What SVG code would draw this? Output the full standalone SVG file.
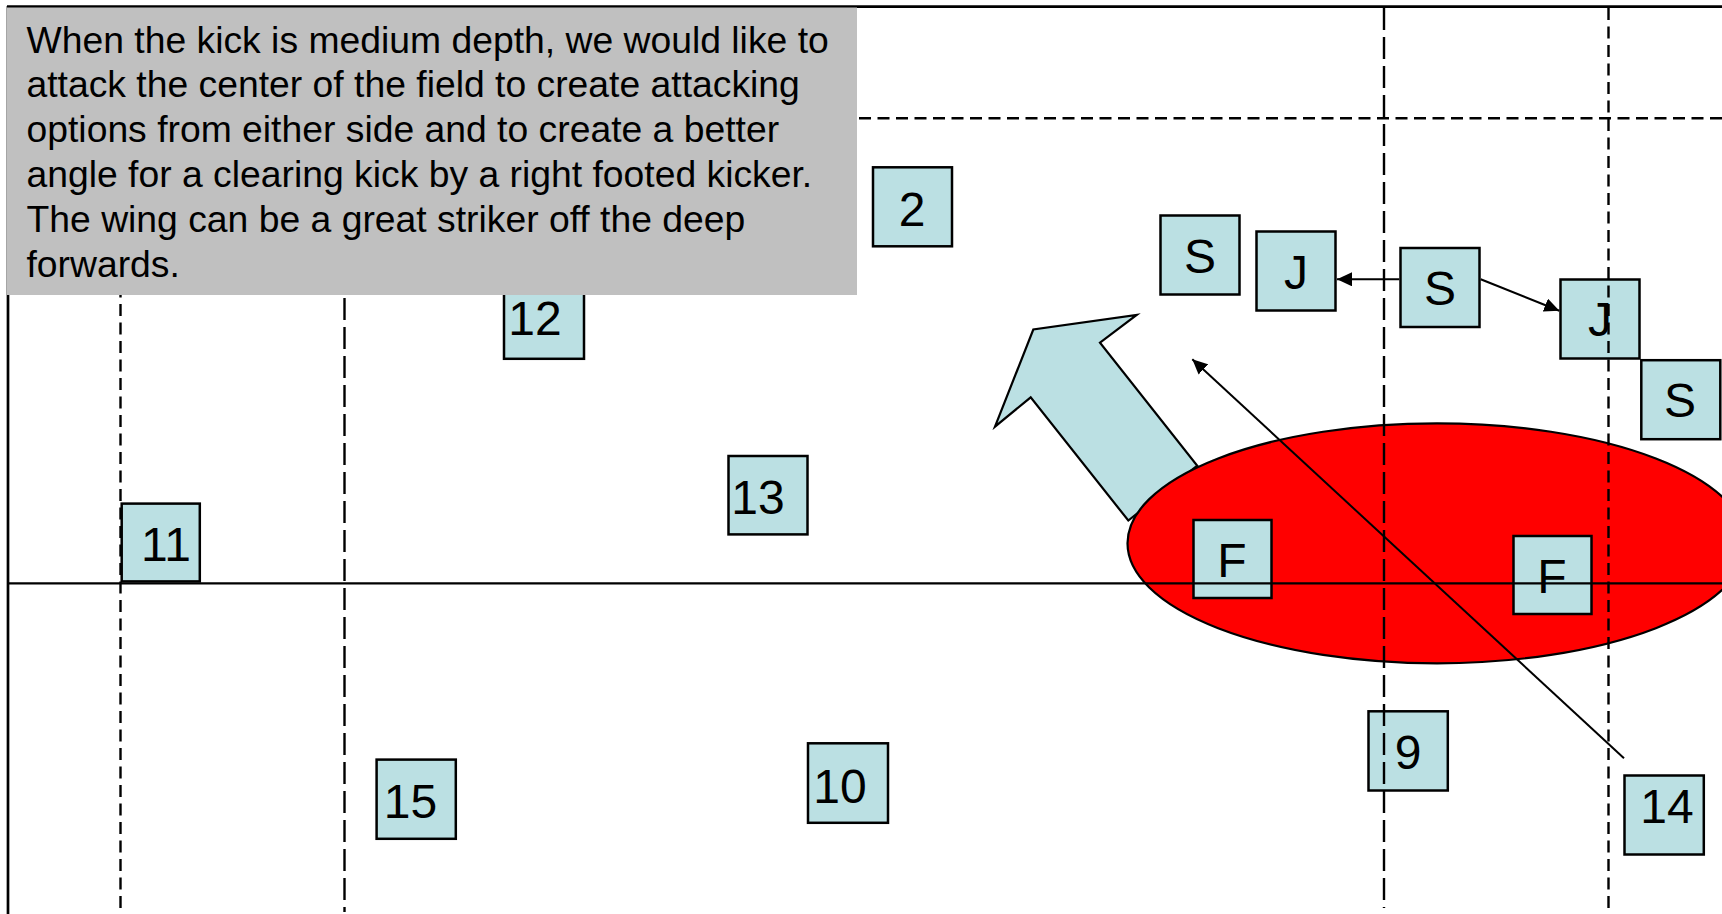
<svg xmlns="http://www.w3.org/2000/svg" width="1722" height="914" viewBox="0 0 1722 914">
<style>
.box{fill:#BBE0E3;stroke:#000;stroke-width:2.5}
.lbl{font-family:"Liberation Sans",Arial,sans-serif;font-size:48px;fill:#000;text-anchor:middle}
.note{font-family:"Liberation Sans",Arial,sans-serif;font-size:37.3px;fill:#000}
.frame{stroke:#000;stroke-width:2.7;fill:none}
.solid{stroke:#000;stroke-width:2.2;fill:none}
.sdash{stroke:#000;stroke-width:2.4;fill:none;stroke-dasharray:12 6.5}
.ldash{stroke:#000;stroke-width:2.4;fill:none;stroke-dasharray:22 7}
.conn{stroke:#000;stroke-width:2;fill:none;marker-end:url(#ah)}
</style>
<defs>
<marker id="ah" markerUnits="userSpaceOnUse" markerWidth="16" markerHeight="14" refX="15" refY="7" orient="auto" viewBox="0 0 16 14">
<path d="M0,0 L15,7 L0,14 z" fill="#000"/>
</marker>
</defs>
<rect x="0" y="0" width="1722" height="914" fill="#fff"/>
<g id="field-frame">
<line class="frame" x1="7" y1="6.7" x2="1722" y2="6.7"/>
<line class="frame" x1="8" y1="6" x2="8" y2="914"/>
</g>
<g id="big-arrow">
<polygon points="995,426.7 1033.3,329.5 1136.7,315 1100,342.7 1197.3,465.7 1128.3,520.5 1030.7,397.3" fill="#BBE0E3" stroke="#000" stroke-width="2.2" stroke-linejoin="miter"/>
</g>
<g id="ruck-zone">
<ellipse cx="1437" cy="543.3" rx="309.5" ry="120" fill="#FF0000" stroke="#000" stroke-width="2.2"/>
</g>
<g id="node-2"><rect class="box" x="873" y="167.3" width="79" height="79"/><text class="lbl" x="912" y="225.5">2</text></g>
<g id="node-S1"><rect class="box" x="1160.5" y="215.5" width="79" height="79"/><text class="lbl" x="1200" y="272.5">S</text></g>
<g id="node-J1"><rect class="box" x="1256.5" y="231.5" width="79" height="79"/><text class="lbl" x="1296" y="288.5">J</text></g>
<g id="node-S2"><rect class="box" x="1400.5" y="248" width="79" height="79"/><text class="lbl" x="1440" y="304.5">S</text></g>
<g id="node-J2"><rect class="box" x="1560.5" y="279.5" width="79" height="79"/><text class="lbl" x="1600" y="336">J</text></g>
<g id="node-S3"><rect class="box" x="1641.3" y="360.2" width="79" height="79"/><text class="lbl" x="1680" y="416.5">S</text></g>
<g id="node-F1"><rect class="box" x="1193.5" y="520" width="78" height="78"/><text class="lbl" x="1232" y="576.5">F</text></g>
<g id="node-F2"><rect class="box" x="1513.5" y="536" width="78" height="78"/><text class="lbl" x="1552" y="592.5">F</text></g>
<g id="node-12"><rect class="box" x="504" y="280.3" width="80" height="78.5"/><text class="lbl" x="535" y="335">12</text></g>
<g id="node-11"><rect class="box" x="121.7" y="503.6" width="78.1" height="77.8"/><text class="lbl" x="166" y="561">11</text></g>
<g id="node-13"><rect class="box" x="728.5" y="456" width="79" height="78.4"/><text class="lbl" x="758" y="514">13</text></g>
<g id="node-15"><rect class="box" x="376.6" y="759.6" width="79.2" height="79.2"/><text class="lbl" x="410.5" y="818">15</text></g>
<g id="node-10"><rect class="box" x="808" y="743.3" width="80" height="79.5"/><text class="lbl" x="840" y="803">10</text></g>
<g id="node-9"><rect class="box" x="1368.5" y="711.3" width="79.3" height="79.2"/><text class="lbl" x="1408" y="769">9</text></g>
<g id="node-14"><rect class="box" x="1624.5" y="775.5" width="79.3" height="79"/><text class="lbl" x="1667" y="823">14</text></g>
<g id="field-lines">
<line class="sdash" x1="8" y1="118.3" x2="1722" y2="118.3"/>
<line class="solid" x1="8" y1="583.3" x2="1722" y2="583.3"/>
<line class="sdash" x1="120.5" y1="8" x2="120.5" y2="914"/>
<line class="ldash" x1="344.5" y1="8" x2="344.5" y2="912"/>
<line class="ldash" x1="1384" y1="8" x2="1384" y2="908"/>
<line class="sdash" x1="1608.5" y1="8" x2="1608.5" y2="914"/>
</g>
<g id="connectors">
<line class="conn" x1="1399.3" y1="279.3" x2="1337" y2="279.3"/>
<line class="conn" x1="1480.7" y1="279.3" x2="1559.3" y2="310.7"/>
<line class="conn" x1="1624" y1="758.3" x2="1192.3" y2="359.3"/>
</g>
<g id="note">
<rect x="7" y="7.5" width="850" height="287.5" fill="#C0C0C0"/>
<text class="note" x="26.5" y="52.5">When the kick is medium depth, we would like to</text>
<text class="note" x="26.5" y="97.3">attack the center of the field to create attacking</text>
<text class="note" x="26.5" y="142.1">options from either side and to create a better</text>
<text class="note" x="26.5" y="186.9">angle for a clearing kick by a right footed kicker.</text>
<text class="note" x="26.5" y="231.7">The wing can be a great striker off the deep</text>
<text class="note" x="26.5" y="276.5">forwards.</text>
</g>
</svg>
